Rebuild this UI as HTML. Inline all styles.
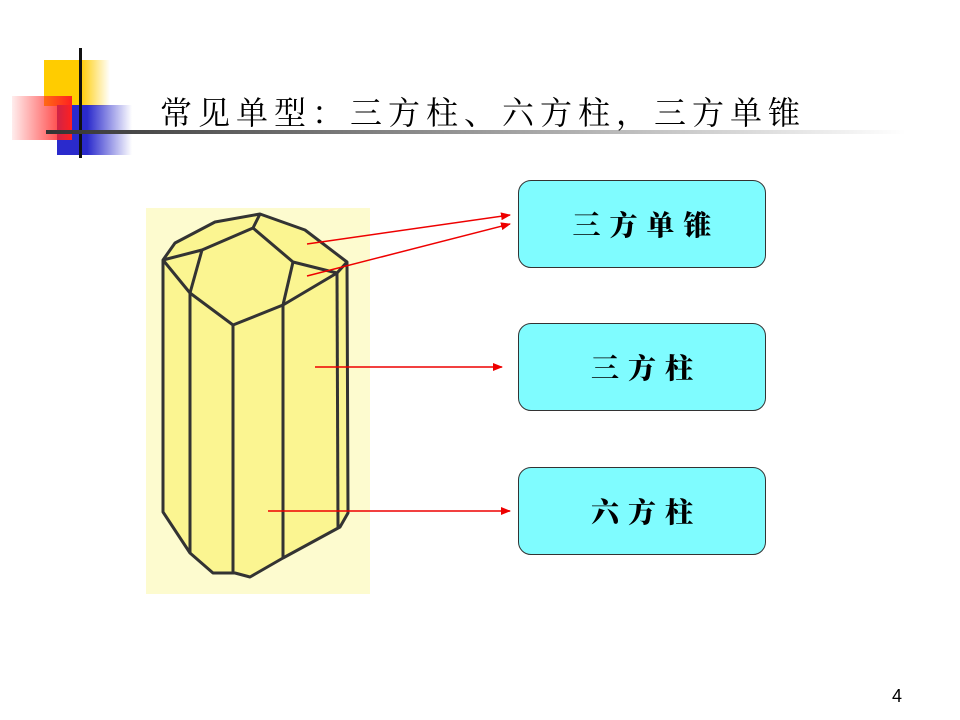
<!DOCTYPE html>
<html><head><meta charset="utf-8"><style>
body{margin:0;width:960px;height:720px;background:#fff;position:relative;overflow:hidden;font-family:"Liberation Serif","Noto Serif CJK SC",serif}
.a{position:absolute}
.box{position:absolute;left:518px;width:248px;height:88px;border:1px solid #333;border-radius:13px;background:#7ffcff;display:flex;align-items:center;justify-content:center;font-family:"Noto Serif CJK SC","WenQuanYi Zen Hei",serif;font-weight:900;font-size:28px;letter-spacing:9px;padding-left:9px;box-sizing:border-box}
</style></head><body>
<div class="a" style="left:44px;top:60px;width:66px;height:46px;background:linear-gradient(90deg,#ffcc00 55%,rgba(255,204,0,0))"></div>
<div class="a" style="left:57px;top:105px;width:75px;height:50px;background:linear-gradient(90deg,#2a2acc 40%,rgba(42,42,204,0))"></div>
<div class="a" style="left:12px;top:96px;width:60px;height:44px;background:linear-gradient(90deg,rgba(255,80,80,0.1),#ff2020)"></div>
<div class="a" style="left:79px;top:48px;width:3px;height:110px;background:#111"></div>
<div class="a" style="left:46px;top:130px;width:860px;height:4px;background:linear-gradient(90deg,#333,#999 50%,#fff)"></div>
<div class="a" style="left:160px;top:88px;font-size:32px;letter-spacing:6px;white-space:nowrap;color:#000">常见单型：三方柱、六方柱，三方单锥</div>
<svg class="a" style="left:0;top:0" width="960" height="720">
<rect x="146" y="208" width="224" height="386" fill="#fdfbcf"/>
<g stroke="#333" stroke-width="3" fill="#fbf591" stroke-linejoin="round">
<polygon points="163,260 175,243 215,222 260,214 305,230 347,262 348,513 340,527 283,558 250,577 235,573 213,573 190,553 163,512"/>
<polyline fill="none" points="163,260 202,250 253,228 260,214"/>
<polyline fill="none" points="253,228 293,262 337,273 347,262"/>
<polyline fill="none" points="163,260 190,293 233,325 283,305 337,273"/>
<line x1="202" y1="250" x2="190" y2="293"/>
<line x1="293" y1="262" x2="283" y2="305"/>
<line x1="190" y1="293" x2="190" y2="553"/>
<line x1="233" y1="325" x2="233" y2="573"/>
<line x1="283" y1="305" x2="283" y2="558"/>
<line x1="337" y1="273" x2="338" y2="527"/>
</g>
<defs><marker id="m" markerWidth="10" markerHeight="8" refX="9" refY="4" orient="auto" markerUnits="userSpaceOnUse"><path d="M0,0L10,4L0,8z" fill="#e00"/></marker></defs>
<g stroke="#e00" stroke-width="1.5" marker-end="url(#m)">
<line x1="307" y1="244" x2="510" y2="215"/>
<line x1="307" y1="276" x2="510" y2="224"/>
<line x1="315" y1="367" x2="502" y2="367"/>
<line x1="268" y1="511" x2="510" y2="511"/>
</g>
</svg>
<div class="box" style="top:180px">三方单锥</div>
<div class="box" style="top:323px">三方柱</div>
<div class="box" style="top:467px">六方柱</div>
<div class="a" style="left:892px;top:686px;font-family:'Liberation Sans',sans-serif;font-size:18px">4</div>
</body></html>
